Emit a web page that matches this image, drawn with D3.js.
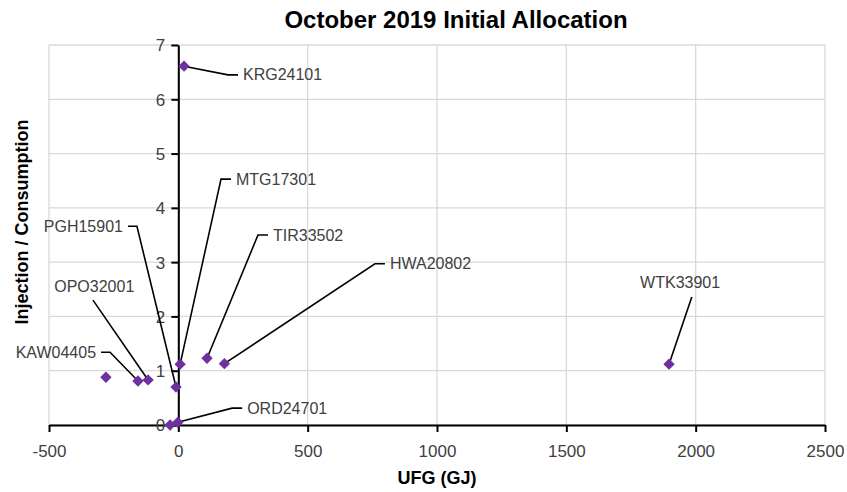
<!DOCTYPE html>
<html>
<head>
<meta charset="utf-8">
<script src="https://cdn.jsdelivr.net/npm/d3@7/dist/d3.min.js"></script>
<style>
  body { margin: 0; background: #fff; }
  svg { display: block; font-family: "Liberation Sans", Arial, sans-serif; }
</style>
</head>
<body>
<div id="chart"></div>
<script>
const WIDTH = 847;
const HEIGHT = 492;
const PLOT = { left: 49, right: 825, top: 45, bottom: 425 };

// points
const stations = ["KRG24101", "MTG17301", "TIR33502", "HWA20802", "WTK33901", "PGH15901",
  "OPO32001", "KAW04405", "ORD24701", "", ""];
const ufg = [22, 7, 111, 178, 1897, -9, -117, -156, -2, -280, -32];
const ratio = [6.61, 1.12, 1.23, 1.13, 1.12, 0.70, 0.83, 0.81, 0.05, 0.88, 0.0];

const xTicks = [-500, 0, 500, 1000, 1500, 2000, 2500];
const yTicks = [0, 1, 2, 3, 4, 5, 6, 7];

// label callouts: elbow in data units, side of the text ("right", "left", "above")
const callouts = [
  { i: 0, ex: 192, ey: 6.45, side: "right" },
  { i: 1, ex: 165, ey: 4.53, side: "right" },
  { i: 2, ex: 308, ey: 3.50, side: "right" },
  { i: 3, ex: 760, ey: 2.97, side: "right" },
  { i: 4, ex: 1985, ey: 2.36, side: "above", tx: 1940 },
  { i: 5, ex: -160, ey: 3.66, side: "left" },
  { i: 6, ex: -330, ey: 2.30, side: "above", tx: -325 },
  { i: 7, ex: -264, ey: 1.34, side: "left" },
  { i: 8, ex: 208, ey: 0.31, side: "right" },
];

const x = d3.scaleLinear().domain([-500, 2500]).range([PLOT.left, PLOT.right]);
const y = d3.scaleLinear().domain([0, 7]).range([PLOT.bottom, PLOT.top]);
const fmt = (d) => String(d);

const svg = d3.select("#chart").append("svg")
  .attr("width", WIDTH).attr("height", HEIGHT);

// grid
svg.append("g").selectAll("line.v").data(xTicks).join("line")
  .attr("x1", (d) => x(d)).attr("x2", (d) => x(d))
  .attr("y1", PLOT.top).attr("y2", PLOT.bottom)
  .attr("stroke", "#d9d9d9").attr("stroke-width", 1.3);
svg.append("g").selectAll("line.h").data(yTicks).join("line")
  .attr("x1", PLOT.left).attr("x2", PLOT.right)
  .attr("y1", (d) => y(d)).attr("y2", (d) => y(d))
  .attr("stroke", "#d9d9d9").attr("stroke-width", 1.3);

// axes
const xAxis = svg.append("g")
  .attr("transform", `translate(0,${y(0)})`)
  .call(d3.axisBottom(x).tickValues(xTicks).tickFormat(fmt)
    .tickSize(7).tickPadding(13).tickSizeOuter(0));
const yAxis = svg.append("g")
  .attr("transform", `translate(${x(0)},0)`)
  .call(d3.axisLeft(y).tickValues(yTicks).tickFormat(fmt)
    .tickSize(7).tickPadding(6).tickSizeOuter(0));

[xAxis, yAxis].forEach((g) => {
  g.select(".domain").attr("stroke", "#000").attr("stroke-width", 2);
  g.selectAll(".tick line").attr("stroke", "#000").attr("stroke-width", 2);
  g.selectAll(".tick text").attr("fill", "#404040").attr("font-size", 17)
    .attr("font-family", "Liberation Sans, Arial, sans-serif");
});
yAxis.selectAll(".tick text").attr("dy", "0.35em");

// leaders + labels
const labels = svg.append("g");
callouts.forEach((c) => {
  const px = x(ufg[c.i]);
  const py = y(ratio[c.i]);
  const ex = x(c.ex);
  const ey = y(c.ey);
  let pts;
  let tx;
  let anchor;
  let ty = ey;
  if (c.side === "right") {
    pts = [[px, py], [ex, ey], [ex + 10, ey]];
    tx = ex + 15; anchor = "start";
  } else if (c.side === "left") {
    pts = [[px, py], [ex, ey], [ex - 9, ey]];
    tx = ex - 14; anchor = "end";
  } else {
    pts = [[px, py], [ex, ey]];
    tx = x(c.tx); anchor = "middle"; ty = ey - 14;
  }
  labels.append("path")
    .attr("d", d3.line()(pts))
    .attr("fill", "none").attr("stroke", "#000").attr("stroke-width", 1.6);
  labels.append("text")
    .attr("x", tx).attr("y", ty).attr("dy", "0.35em")
    .attr("text-anchor", anchor)
    .attr("font-size", 16).attr("fill", "#404040")
    .text(stations[c.i]);
});

// points
svg.append("g").selectAll("path.pt").data(ufg).join("path")
  .attr("d", d3.symbol(d3.symbolSquare, 64))
  .attr("transform", (d, i) => `translate(${x(d)},${y(ratio[i])}) rotate(45)`)
  .attr("fill", "#7030a0");

// titles
svg.append("text")
  .attr("x", 456).attr("y", 28).attr("text-anchor", "middle")
  .attr("font-size", 24).attr("font-weight", "bold").attr("fill", "#000")
  .text("October 2019 Initial Allocation");
svg.append("text")
  .attr("x", 437).attr("y", 484).attr("text-anchor", "middle")
  .attr("font-size", 18).attr("font-weight", "bold").attr("fill", "#000")
  .text("UFG (GJ)");
svg.append("text")
  .attr("transform", "translate(28,222) rotate(-90)")
  .attr("text-anchor", "middle")
  .attr("font-size", 18).attr("font-weight", "bold").attr("fill", "#000")
  .text("Injection / Consumption");
</script>
</body>
</html>
